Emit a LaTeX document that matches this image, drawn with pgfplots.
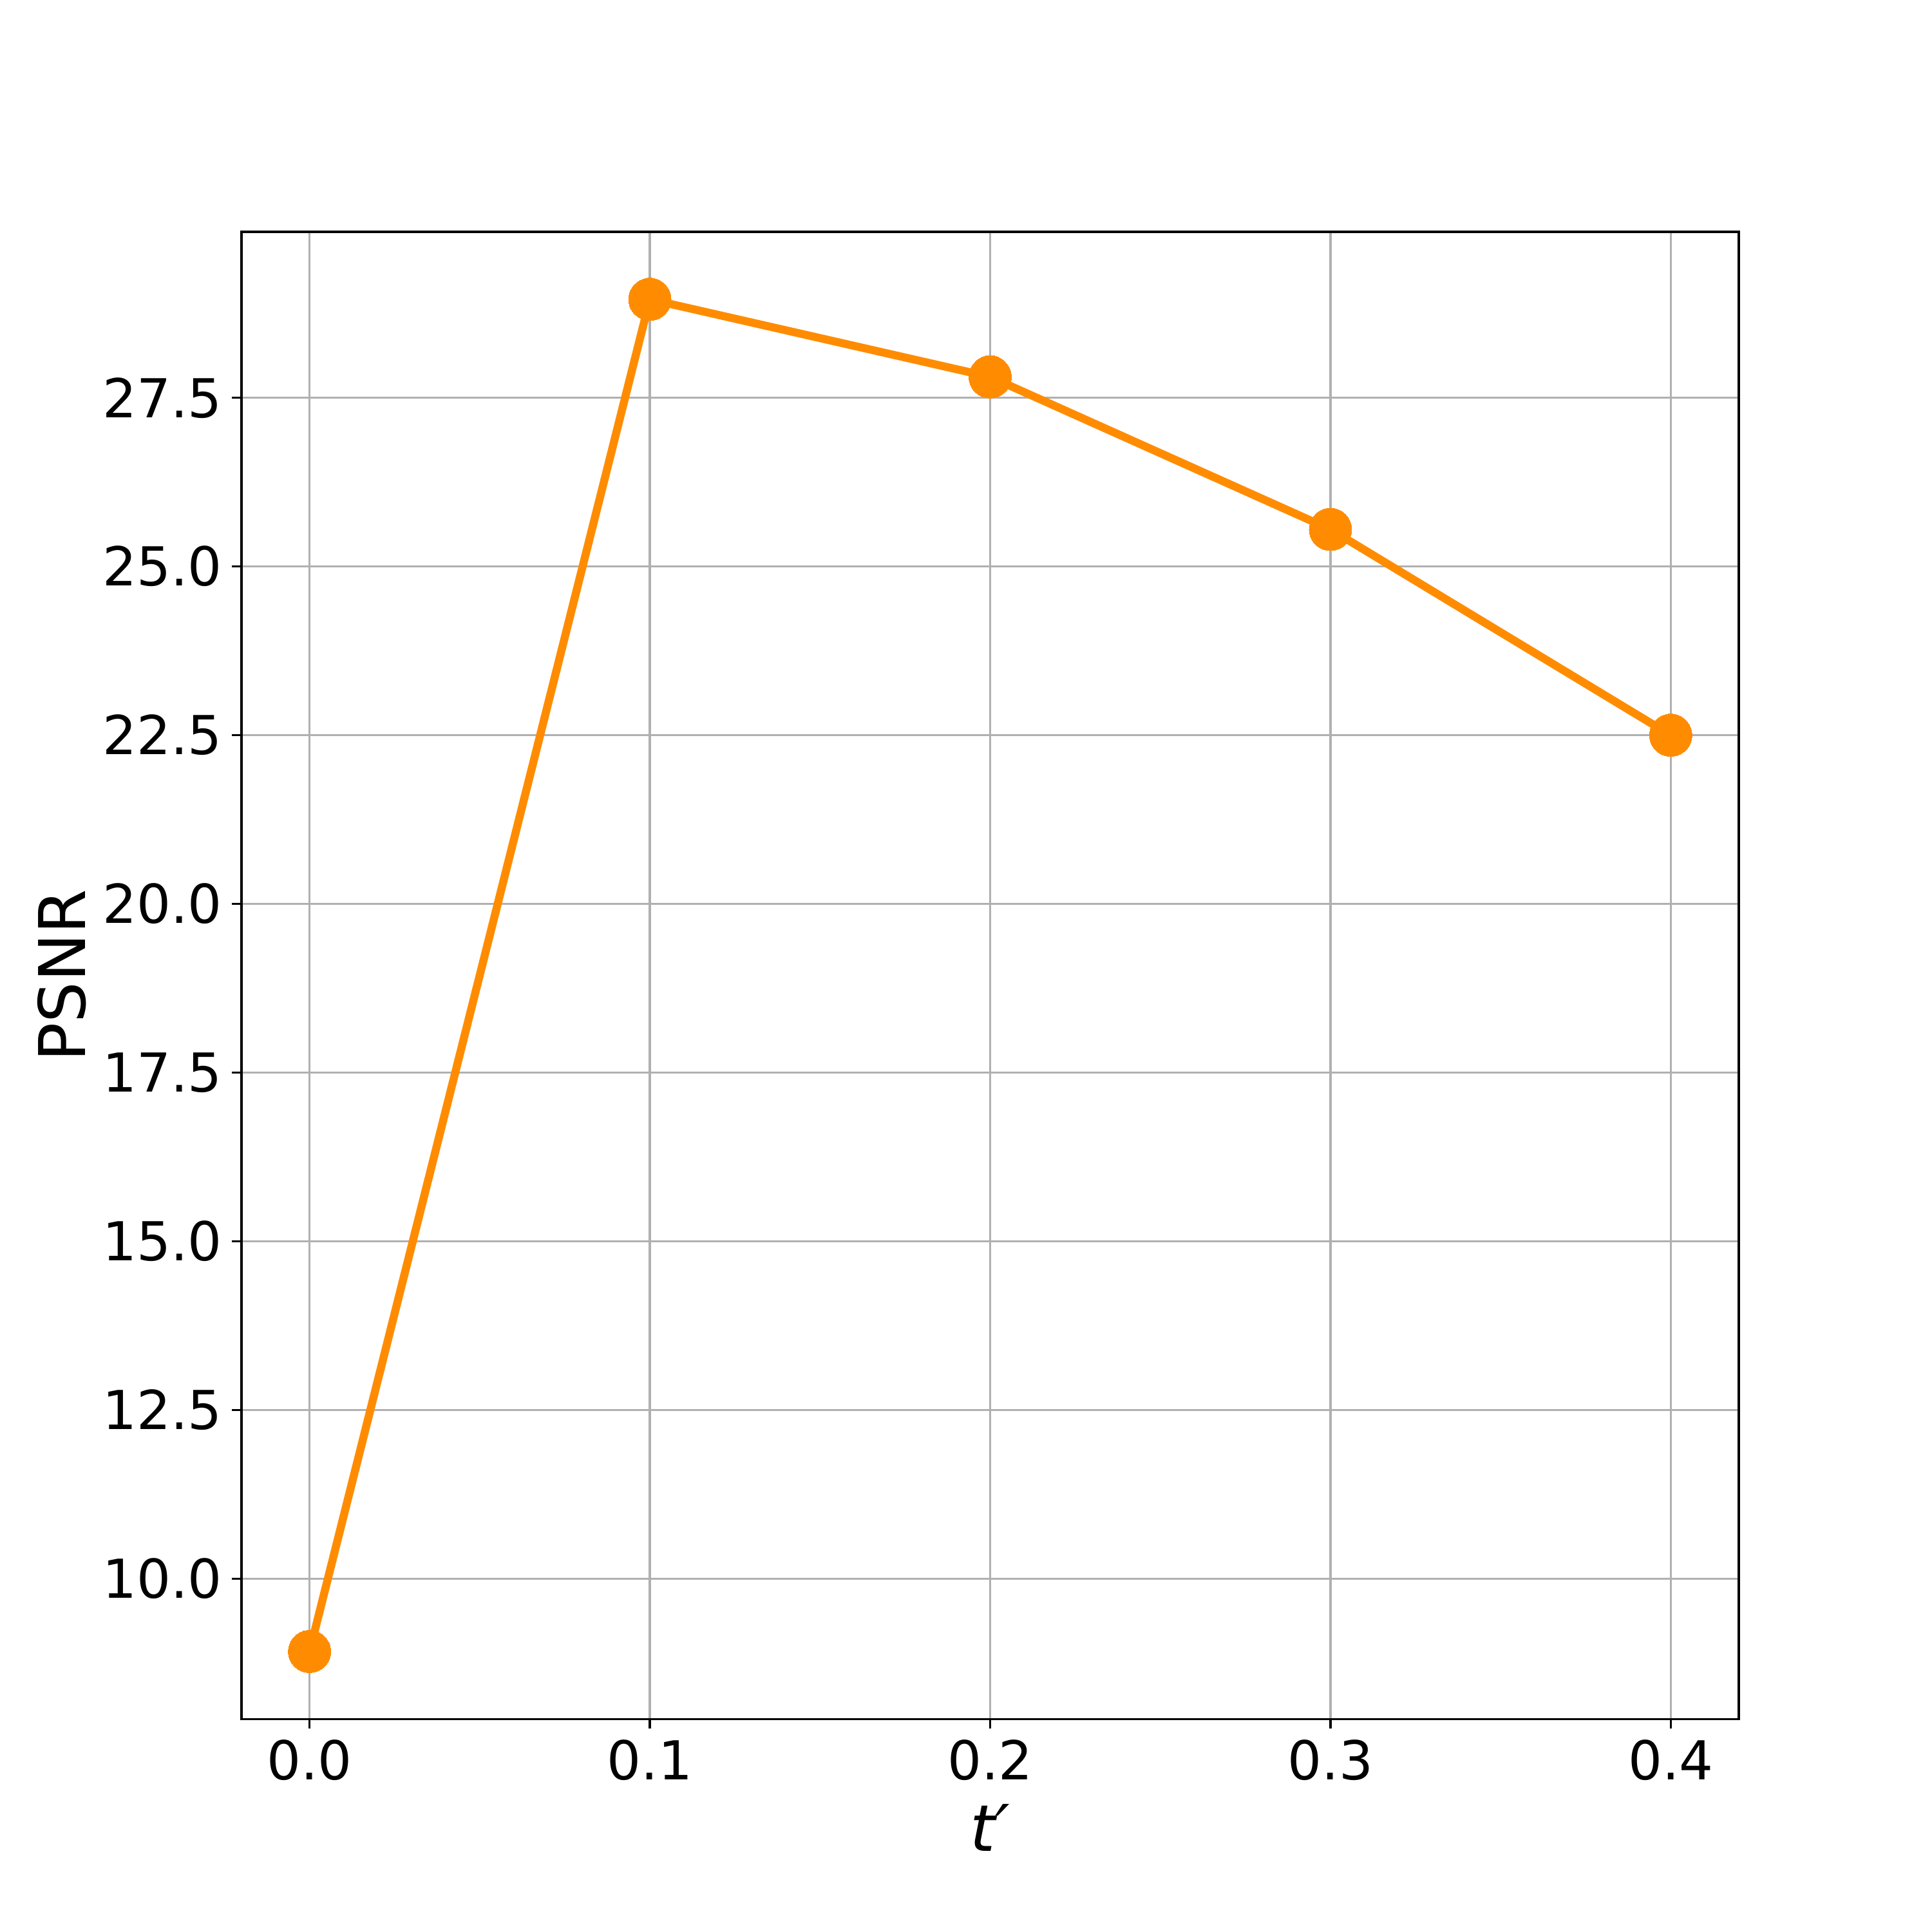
\documentclass[border=0pt]{standalone}
\usepackage{fontspec}
\setmainfont{DejaVu Sans}
\usepackage{pgfplots}
\pgfplotsset{compat=1.18}
\definecolor{dorange}{HTML}{FF8C00}
\definecolor{gridgray}{HTML}{B0B0B0}
\begin{document}
\begin{tikzpicture}
\path[use as bounding box] (-90pt,-79.4pt) rectangle (630pt,640.6pt);
\begin{axis}[%
at={(0,0)}, anchor=south west,
width=558pt,
height=554.2pt,
scale only axis,
xmin=-0.02, xmax=0.42,
ymin=7.92, ymax=29.96,
xtick={0,0.1,0.2,0.3,0.4},
ytick={10,12.5,15,17.5,20,22.5,25,27.5},
xtick pos=bottom, ytick pos=left,
/pgf/number format/fixed,
/pgf/number format/fixed zerofill,
/pgf/number format/precision=1,
/pgf/number format/assume math mode=true,
tick align=outside,
major tick length=3.5pt,
tick style={black, line width=0.8pt},
axis line style={line width=0.8pt},
every tick label/.append style={font=\fontsize{20}{24}\selectfont, inner sep=0pt},
xticklabel style={yshift=-4pt},
yticklabel style={xshift=-3.6pt},
xmajorgrids, ymajorgrids,
major grid style={gridgray, line width=0.8pt},
xlabel={\textit{t′}},
ylabel={PSNR},
label style={font=\fontsize{24}{28}\selectfont},
xlabel style={at={(axis description cs:0.5,-0.073)}, anchor=center},
ylabel style={at={(axis description cs:-0.12,0.5)}, anchor=center},
]
\addplot[color=dorange, line width=3pt, mark=*, mark size=7.9pt,
  mark options={fill=dorange, draw=dorange, line width=0pt}] table[row sep=crcr] {%
0.0	8.92\\
0.1	28.96\\
0.2	27.81\\
0.3	25.55\\
0.4	22.5\\
};
\end{axis}
\end{tikzpicture}
\end{document}
